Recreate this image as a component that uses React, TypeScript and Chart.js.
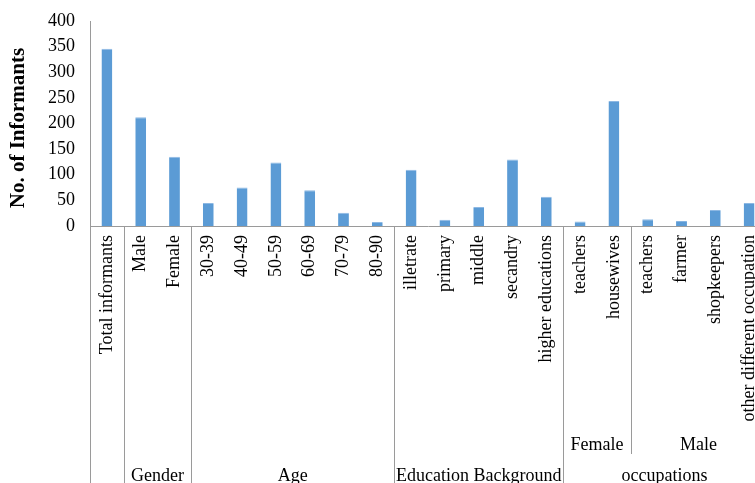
import React, { useEffect, useRef } from "react";
import { Chart, registerables } from "chart.js";

Chart.register(...registerables);

// Category labels (first level of the axis)
const categories = [
  "Total informants",
  "Male",
  "Female",
  "30-39",
  "40-49",
  "50-59",
  "60-69",
  "70-79",
  "80-90",
  "illetrate",
  "primary",
  "middle",
  "secandry",
  "higher educations",
  "teachers",
  "housewives",
  "teachers",
  "farmer",
  "shopkeepers",
  "other different occupation",
];

// Number of informants per category
const informants = [346, 212, 135, 45, 75, 124, 70, 26, 8, 110, 12, 37, 130, 57, 9, 244, 13, 10, 31, 45];

// Second level: [label, firstIndex, lastIndex]
const subGroups: [string, number, number][] = [
  ["Female", 14, 15],
  ["Male", 16, 19],
];

// Third level: [label, firstIndex, lastIndex]
const mainGroups: [string, number, number][] = [
  ["Gender", 1, 2],
  ["Age", 3, 8],
  ["Education Background", 9, 13],
  ["occupations", 14, 19],
];

const yTicks = [0, 50, 100, 150, 200, 250, 300, 350, 400];
const yTitle = "No. of Informants";

const FONT = "'Liberation Serif', 'Times New Roman', serif";
const LINE = "#9a9a9a";

const groupAxisPlugin = {
  id: "groupAxis",
  afterDraw(chart: any) {
    const { ctx, chartArea, height } = chart;
    const x = chart.scales.x;
    const axisY = chartArea.bottom;
    const edge = (i: number) => {
      if (i <= 0) return chartArea.left;
      if (i >= categories.length) return chartArea.right;
      return (x.getPixelForValue(i - 1) + x.getPixelForValue(i)) / 2;
    };
    const vline = (px: number, y1: number, y2: number) => {
      const a = Math.round(px) + 0.5;
      ctx.beginPath();
      ctx.moveTo(a, y1);
      ctx.lineTo(a, y2);
      ctx.stroke();
    };
    ctx.save();
    ctx.strokeStyle = LINE;
    ctx.lineWidth = 1;
    // full-height separators at main group boundaries
    const full = new Set<number>([0, 1]);
    mainGroups.forEach(([, a, b]) => {
      full.add(a);
      full.add(b + 1);
    });
    full.forEach((i) => vline(edge(i), axisY, height));
    // shorter separators between second-level groups
    subGroups.forEach(([, a], k) => {
      if (k > 0) vline(edge(a), axisY, 454);
    });

    ctx.fillStyle = "#000";
    ctx.font = `18px ${FONT}`;
    ctx.textAlign = "center";
    ctx.textBaseline = "alphabetic";
    subGroups.forEach(([label, a, b]) => {
      ctx.fillText(label, (edge(a) + edge(b + 1)) / 2, 450);
    });
    mainGroups.forEach(([label, a, b]) => {
      ctx.fillText(label, (edge(a) + edge(b + 1)) / 2, 481);
    });

    // vertical axis title
    ctx.font = `bold 21px ${FONT}`;
    ctx.textBaseline = "middle";
    ctx.translate(19, 128);
    ctx.rotate(-Math.PI / 2);
    ctx.fillText(yTitle, 0, 0);
    ctx.restore();
  },
};

export default function App() {
  const ref = useRef<HTMLCanvasElement | null>(null);

  useEffect(() => {
    if (!ref.current) return;
    const chart = new Chart(ref.current, {
      type: "bar",
      data: {
        labels: categories,
        datasets: [
          {
            data: informants,
            backgroundColor: "#5B9BD5",
            borderColor: "#8DB8E3",
            borderWidth: { top: 1, left: 0, right: 0, bottom: 0 },
            barPercentage: 0.32,
            categoryPercentage: 1,
          },
        ],
      },
      options: {
        responsive: false,
        animation: false,
        layout: { padding: { top: 21, right: 0, bottom: 0, left: 0 } },
        plugins: { legend: { display: false }, tooltip: { enabled: false } },
        scales: {
          x: {
            grid: { display: false, drawTicks: false },
            border: { display: true, color: LINE, width: 1 },
            ticks: {
              autoSkip: false,
              minRotation: 90,
              maxRotation: 90,
              padding: 9,
              color: "#000",
              font: { family: FONT, size: 18 },
            },
            afterFit(scale: any) {
              scale.height = 257;
              scale.paddingLeft = 0;
              scale.paddingRight = 0;
              scale.paddingTop = 0;
              scale.paddingBottom = 0;
            },
          },
          y: {
            min: 0,
            max: 400,
            afterBuildTicks(scale: any) {
              scale.ticks = yTicks.map((v) => ({ value: v }));
            },
            grid: { display: false, drawTicks: false },
            border: { display: true, color: LINE, width: 1 },
            ticks: {
              padding: 15,
              color: "#000",
              font: { family: FONT, size: 18 },
            },
            afterFit(scale: any) {
              scale.width = 90;
              scale.paddingLeft = 0;
              scale.paddingRight = 0;
              scale.paddingTop = 0;
              scale.paddingBottom = 0;
            },
          },
        },
      },
      plugins: [groupAxisPlugin],
    });
    return () => chart.destroy();
  }, []);

  return (
    <div
      style={{
        position: "fixed",
        left: 0,
        top: 0,
        width: 755,
        height: 483,
        overflow: "hidden",
        background: "#fff",
      }}
    >
      <canvas ref={ref} width={766} height={483} style={{ display: "block" }} />
    </div>
  );
}
